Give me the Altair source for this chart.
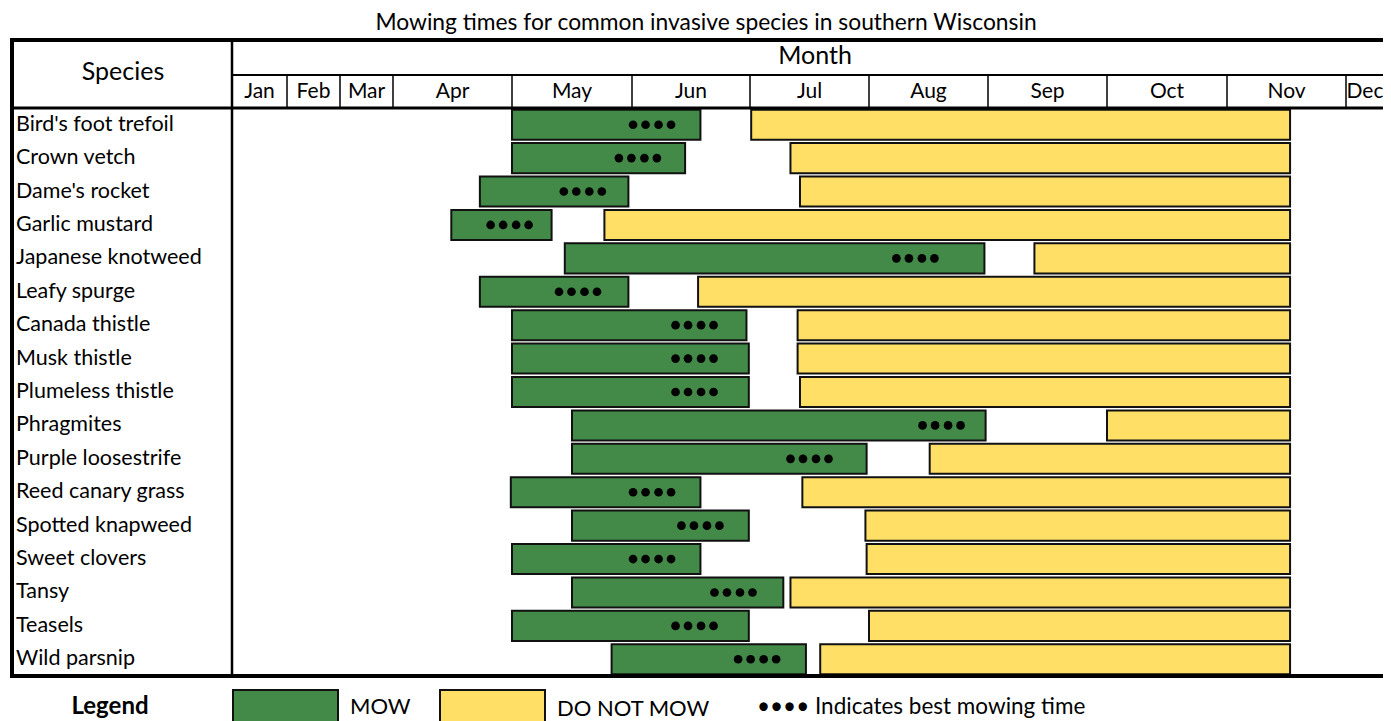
import altair as alt
import pandas as pd

# ---------------- data (month index: 0 = 1 Jan, 12 = end of Dec) ----------------
species = ["Bird's foot trefoil", "Crown vetch", "Dame's rocket", "Garlic mustard",
           "Japanese knotweed", "Leafy spurge", "Canada thistle", "Musk thistle",
           "Plumeless thistle", "Phragmites", "Purple loosestrife", "Reed canary grass",
           "Spotted knapweed", "Sweet clovers", "Tansy", "Teasels", "Wild parsnip"]
mow_start = [4.00, 4.00, 3.73, 3.49, 4.44, 3.73, 4.00, 4.00, 4.00, 4.50, 4.50, 3.99, 4.50, 4.00, 4.50, 4.00, 4.83]
mow_end = [5.58, 5.45, 4.97, 4.33, 7.97, 4.97, 5.97, 5.99, 5.99, 7.98, 6.98, 5.58, 5.99, 5.58, 6.28, 5.99, 6.47]
best_time = [5.17, 5.05, 4.59, 3.98, 7.39, 4.55, 5.53, 5.53, 5.53, 7.61, 6.50, 5.17, 5.58, 5.17, 5.86, 5.53, 6.06]
nomow_start = [6.01, 6.34, 6.42, 4.77, 8.39, 5.56, 6.40, 6.40, 6.42, 9.00, 7.51, 6.44, 6.97, 6.98, 6.34, 7.00, 6.59]
nomow_end = [10.53] * 17
months = ["Jan", "Feb", "Mar", "Apr", "May", "Jun", "Jul", "Aug", "Sep", "Oct", "Nov", "Dec"]

title_text = "Mowing times for common invasive species in southern Wisconsin"

# ---------------- styling ----------------
FONT = "Lato"
GREEN = "#438a49"
YELLOW = "#ffdf66"
W, H = 1375, 713

# column edges of the table (pixel positions of month boundaries, uneven widths)
month_edges_px = [224, 279, 332, 385, 504, 624, 742, 861, 980, 1099, 1219, 1338, 1376]
xscale = alt.Scale(domain=list(range(13)), range=month_edges_px, nice=False, zero=False)
yscale = alt.Scale(domain=species, range=[100, 668], paddingInner=0.1, paddingOuter=0.05)

bars = pd.DataFrame({"species": species, "mow_start": mow_start, "mow_end": mow_end,
                     "best": best_time, "nomow_start": nomow_start, "nomow_end": nomow_end})
mdf = pd.DataFrame({"month": months, "mid": [i + 0.5 for i in range(12)]})
edges = pd.DataFrame({"edge": list(range(1, 12))})
one = pd.DataFrame({"k": [0]})


def hline(y, x1, x2, w):
    return alt.Chart(one).mark_rule(color="black", strokeWidth=w).encode(
        x=alt.value(x1), x2=alt.value(x2), y=alt.value(y))


def vline(x, y1, y2, w):
    return alt.Chart(one).mark_rule(color="black", strokeWidth=w).encode(
        x=alt.value(x), y=alt.value(y1), y2=alt.value(y2))


def label(txt, x, y, size, align="center", weight="normal"):
    return alt.Chart(one).mark_text(font=FONT, fontSize=size, align=align, baseline="middle",
                                    fontWeight=weight, color="black").encode(
        x=alt.value(x), y=alt.value(y), text=alt.value(txt))


layers = []

# title and header texts
layers.append(label(title_text, 698, 15, 22.8))
layers.append(label("Species", 115, 64, 25))
layers.append(label("Month", 807, 48, 25))

# month separators and names
layers.append(alt.Chart(edges).mark_rule(color="black", strokeWidth=1.5).encode(
    x=alt.X("edge:Q", scale=xscale, axis=None), y=alt.value(67), y2=alt.value(100)))
layers.append(alt.Chart(mdf).mark_text(font=FONT, fontSize=21, color="black", baseline="middle").encode(
    x=alt.X("mid:Q", scale=xscale, axis=None), y=alt.value(84), text="month:N"))

# bars
layers.append(alt.Chart(bars).mark_bar(color=GREEN, stroke="#111", strokeWidth=2, cornerRadius=0).encode(
    x=alt.X("mow_start:Q", scale=xscale, axis=None), x2="mow_end:Q",
    y=alt.Y("species:N", scale=yscale, axis=None, sort=species)))
layers.append(alt.Chart(bars).mark_bar(color=YELLOW, stroke="#111", strokeWidth=2, cornerRadius=0).encode(
    x=alt.X("nomow_start:Q", scale=xscale, axis=None), x2="nomow_end:Q",
    y=alt.Y("species:N", scale=yscale, axis=None, sort=species)))

# best-mowing-time dots (four dots)
for off in (-19, -6.5, 6.5, 19):
    layers.append(alt.Chart(bars).mark_circle(color="black", opacity=1, size=75, xOffset=off).encode(
        x=alt.X("best:Q", scale=xscale, axis=None),
        y=alt.Y("species:N", scale=yscale, axis=None, sort=species)))

# species labels
layers.append(alt.Chart(bars).mark_text(font=FONT, fontSize=21.5, align="left", baseline="middle",
                                        color="black").encode(
    x=alt.value(8), y=alt.Y("species:N", scale=yscale, axis=None, sort=species), text="species:N"))

# table frame
layers.append(hline(32, 2, W, 4))
layers.append(hline(668, 2, W, 4))
layers.append(hline(100, 4, W, 3))
layers.append(hline(67, 224, W, 2))
layers.append(vline(4, 30, 670, 4))
layers.append(vline(224, 32, 668, 2.5))

# legend
layers.append(label("Legend", 102, 699, 24, weight="bold"))
layers.append(alt.Chart(one).mark_rect(fill=GREEN, stroke="#111", strokeWidth=2).encode(
    x=alt.value(225), x2=alt.value(330), y=alt.value(682), y2=alt.value(720)))
layers.append(label("MOW", 342, 699, 22, align="left"))
layers.append(alt.Chart(one).mark_rect(fill=YELLOW, stroke="#111", strokeWidth=2).encode(
    x=alt.value(432), x2=alt.value(537), y=alt.value(682), y2=alt.value(720)))
layers.append(label("DO NOT MOW", 549, 701, 22, align="left"))
layers.append(label("•••• Indicates best mowing time", 749, 699, 22.5, align="left"))

chart = alt.layer(*layers).properties(
    width=W, height=H, padding=0,
    autosize=alt.AutoSizeParams(type="none"),
).configure_view(stroke=None)

chart.save("out.html", embed_options={"renderer": "svg", "actions": False})
